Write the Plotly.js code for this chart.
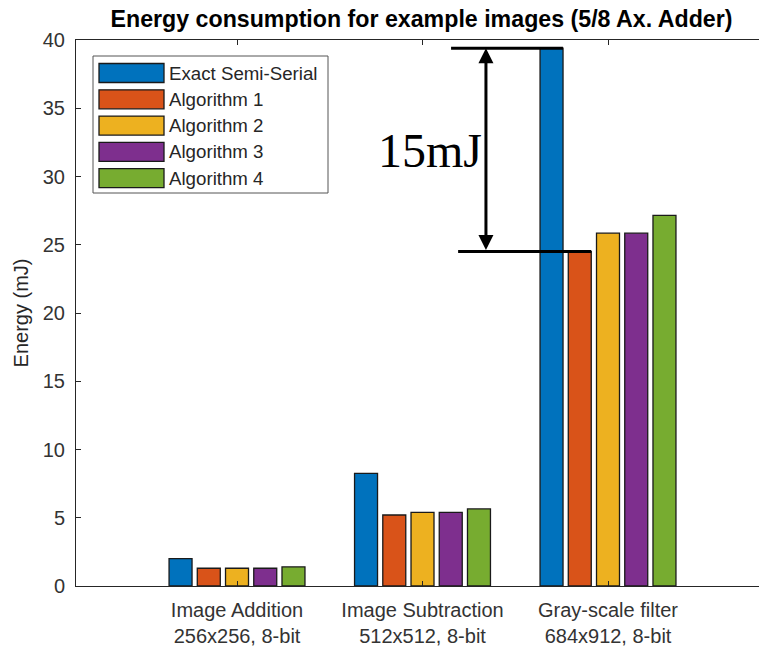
<!DOCTYPE html>
<html>
<head>
<meta charset="utf-8">
<script src="https://cdn.plot.ly/plotly-3.0.1.min.js"></script>
<style>html,body{margin:0;padding:0;background:#fff;}#chart{width:759px;height:652px;}</style>
</head>
<body>
<div id="chart"></div>
<script>
const categories = ['Image Addition<br>256x256, 8-bit', 'Image Subtraction<br>512x512, 8-bit', 'Gray-scale filter<br>684x912, 8-bit'];
const seriesNames = ['Exact Semi-Serial', 'Algorithm 1', 'Algorithm 2', 'Algorithm 3', 'Algorithm 4'];
const seriesColors = ['#0072BD', '#D95319', '#EDB120', '#7E2F8E', '#77AC30'];
const exactSemiSerial = [2.0, 8.25, 39.4];
const algorithm1 = [1.3, 5.2, 24.5];
const algorithm2 = [1.3, 5.4, 25.85];
const algorithm3 = [1.3, 5.4, 25.85];
const algorithm4 = [1.4, 5.65, 27.15];
const yTicks = [0, 5, 10, 15, 20, 25, 30, 35, 40];
const gapLabel = '15mJ';

const seriesValues = [exactSemiSerial, algorithm1, algorithm2, algorithm3, algorithm4];
const xIdx = categories.map((c, i) => i);

const W = 759, H = 652;
const M = {l: 76, r: 0, t: 40, b: 66};
const pw = W - M.l - M.r, ph = H - M.t - M.b;
const px = x => (x - M.l) / pw;
const py = y => (H - M.b - y) / ph;

const traces = seriesValues.map((vals, i) => ({
  type: 'bar',
  x: xIdx,
  y: vals,
  name: seriesNames[i],
  marker: {color: seriesColors[i], line: {color: '#1a1a1a', width: 1.3}},
  showlegend: false,
  hoverinfo: 'y'
}));

const shapes = [];
const annotations = [];

// custom legend (MATLAB style wide swatches)
shapes.push({type: 'rect', xref: 'paper', yref: 'paper', x0: px(93), x1: px(328), y0: py(56), y1: py(193),
  line: {color: '#555', width: 1}, fillcolor: '#ffffff', layer: 'above'});
seriesNames.forEach((n, i) => {
  const cy = 73 + i * 26.3;
  shapes.push({type: 'rect', xref: 'paper', yref: 'paper', x0: px(99), x1: px(164), y0: py(cy + 9.5), y1: py(cy - 9.5),
    line: {color: '#1a1a1a', width: 1.3}, fillcolor: seriesColors[i], layer: 'above'});
  annotations.push({xref: 'paper', yref: 'paper', x: px(167), y: py(cy), xanchor: 'left', yanchor: 'middle',
    text: n, showarrow: false, font: {family: 'Liberation Sans, Arial, sans-serif', size: 18.7, color: '#262626'}});
});

// gap markers
shapes.push({type: 'line', xref: 'x', yref: 'y', x0: 1.154, x1: 1.757, y0: exactSemiSerial[2], y1: exactSemiSerial[2],
  line: {color: '#000', width: 3}, layer: 'above'});
shapes.push({type: 'line', xref: 'x', yref: 'y', x0: 1.192, x1: 1.910, y0: algorithm1[2], y1: algorithm1[2],
  line: {color: '#000', width: 3}, layer: 'above'});
annotations.push({xref: 'x', yref: 'y', x: 1.342, y: exactSemiSerial[2], axref: 'x', ayref: 'y', ax: 1.342, ay: algorithm1[2],
  text: '', showarrow: true, arrowhead: 2, startarrowhead: 2, arrowside: 'end+start', arrowwidth: 3, arrowsize: 1, startarrowsize: 1,
  arrowcolor: '#000', standoff: 0, startstandoff: 0});
annotations.push({xref: 'x', yref: 'y', x: 1.043, y: 31.9, xanchor: 'center', yanchor: 'middle', text: gapLabel, showarrow: false,
  font: {family: 'Liberation Serif, Times New Roman, serif', size: 48, color: '#000'}});

const layout = {
  width: W, height: H,
  margin: M,
  paper_bgcolor: '#fff', plot_bgcolor: '#fff',
  font: {family: 'Liberation Sans, Arial, sans-serif', color: '#262626'},
  title: {text: 'Energy consumption for example images (5/8 Ax. Adder)', font: {size: 23.2, color: '#000', weight: 'bold'},
    x: 421.5 / W, xref: 'container', xanchor: 'center', y: 1 - 19 / H, yref: 'container', yanchor: 'middle'},
  barmode: 'group', bargap: 0.239, bargroupgap: 0.186,
  xaxis: {range: [-0.868, 2.814], tickvals: xIdx, ticktext: categories, ticks: 'inside', ticklen: 5, tickcolor: '#262626',
    showline: true, linecolor: '#262626', linewidth: 1, mirror: 'ticks', showgrid: false, zeroline: false,
    tickfont: {size: 20, color: '#333'}, ticklabelstandoff: 6, fixedrange: true},
  yaxis: {range: [0, 40], tickvals: yTicks, ticks: 'inside', ticklen: 5, tickcolor: '#262626',
    showline: true, linecolor: '#262626', linewidth: 1, mirror: false, showgrid: false, zeroline: false,
    tickfont: {size: 20, color: '#333'}, ticklabelstandoff: 6,
    title: {text: 'Energy (mJ)', font: {size: 20, color: '#262626'}, standoff: 8}, fixedrange: true},
  shapes: shapes,
  annotations: annotations
};

Plotly.newPlot('chart', traces, layout, {displayModeBar: false, staticPlot: true});
</script>
</body>
</html>
